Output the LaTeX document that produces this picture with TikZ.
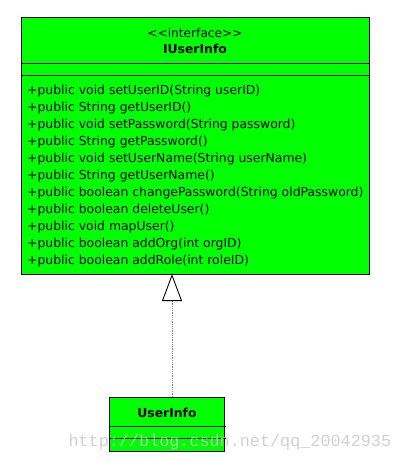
\documentclass[tikz,border=0pt]{standalone}
\usepackage{fontspec}
\setmainfont{DejaVu Sans}
\newfontfamily\markfont{Liberation Mono}
\usetikzlibrary{arrows.meta}
\definecolor{umlgreen}{RGB}{0,255,0}
\definecolor{markgray}{RGB}{200,200,200}

\begin{document}
\begin{tikzpicture}[
        x=1pt, y=-1pt,
        % --- Box styles ---
        classbox/.style={
            draw=black, fill=umlgreen, line width=0.9pt,
            anchor=north west, inner sep=0pt
        },
        stereo/.style={font=\fontsize{12.2}{14}\selectfont},
        classname/.style={font=\fontsize{12.4}{14}\selectfont\bfseries},
        methods/.style={
            anchor=north west, align=left, inner sep=0pt,
            font=\fontsize{12.4}{17}\selectfont
        },
        sepline/.style={black, line width=0.9pt},
        implements/.style={
            densely dotted, gray, line width=0.8pt,
            -{Triangle[open, length=27pt, width=20pt, fill=white, line width=0.9pt, color=black]}
        },
        watermark/.style={font=\markfont\fontsize{16.8}{18}\selectfont, text=markgray, opacity=0.85},
    ]

    \useasboundingbox (0,0) rectangle (400,461);

    % ===== Interface IUserInfo =====
    \node[classbox, minimum width=348pt, minimum height=257pt] (iface) at (21,17) {};
    \node[stereo]    (ifstereo) at (195,33) {{<}{<}interface{>}{>}};
    \node[classname] (ifname)   at (195,49) {IUserInfo};
    \draw[sepline] (21,63) -- (370,63);
    \draw[sepline] (21,75) -- (370,75);
    \node[methods] (ifops) at (27,85) {%
        +public void setUserID(String userID)\\
        +public String getUserID()\\
        +public void setPassword(String password)\\
        +public String getPassword()\\
        +public void setUserName(String userName)\\
        +public String getUserName()\\
        +public boolean changePassword(String oldPassword)\\
        +public boolean deleteUser()\\
        +public void mapUser()\\
        +public boolean addOrg(int orgID)\\
        +public boolean addRole(int roleID)};

    % ===== Class UserInfo =====
    \node[classbox, minimum width=115pt, minimum height=54pt] (impl) at (109,397) {};
    \node[classname] (implname) at (167,413) {UserInfo};
    \draw[sepline] (109,426) -- (226,426);
    \draw[sepline] (109,438) -- (226,438);

    % ===== Realization =====
    \coordinate (tip) at (172,274);
    \draw[implements] (impl.north -| tip) -- (tip);

    % ===== Watermark =====
    \node[watermark, anchor=base west] (mark) at (65,446) {http://blog.csdn.net/qq\_20042935};

\end{tikzpicture}
\end{document}
